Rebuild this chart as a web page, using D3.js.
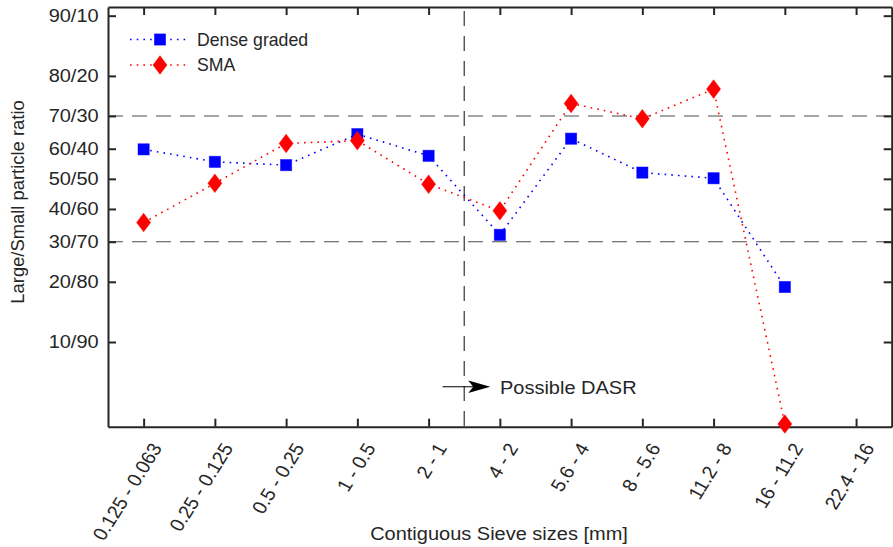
<!DOCTYPE html>
<html>
<head>
<meta charset="utf-8">
<script src="https://cdn.jsdelivr.net/npm/d3@7"></script>
<style>
  html, body { margin: 0; padding: 0; background: #fff; }
  svg { display: block; font-family: "Liberation Sans", Arial, Helvetica, sans-serif; }
</style>
</head>
<body>
<svg id="chart" width="893" height="547"></svg>
<script>
// Sieve-size classes (contiguous sieve pairs, mm)
const categories = ["0.125 - 0.063", "0.25 - 0.125", "0.5 - 0.25", "1 - 0.5", "2 - 1",
                    "4 - 2", "5.6 - 4", "8 - 5.6", "11.2 - 8", "16 - 11.2", "22.4 - 16"];

// Share of large particles (%) in each pair; the ratio plotted is large/small
const denseGraded = [59.8, 55.7, 54.6, 64.6, 57.7, 32.0, 63.2, 52.1, 50.2, 18.9, null];
const sma         = [35.7, 48.5, 61.7, 62.6, 48.2, 39.4, 73.4, 69.2, 77.0, 3.55, null];

// Y tick labels (large/small split in %)
const yTickLarge = [90, 80, 70, 60, 50, 40, 30, 20, 10];
const yTickLabels = ["90/10", "80/20", "70/30", "60/40", "50/50", "40/60", "30/70", "20/80", "10/90"];
const refLines = [70, 30];

const ratio = p => p / (100 - p);

const svg = d3.select("#chart");
const plotL = 108, plotR = 891.7, plotT = 7, plotB = 426.7;
const SX = 1.087;        // horizontal stretch of the lettering
const FS = 18.4;         // font size
const axisColor = "#262626";

const x = d3.scalePoint(categories, [plotL, plotR]).padding(0.5);
const y = d3.scaleLog([0.03552, 10.116], [plotB, plotT]);

// reference dashed lines
svg.append("g").selectAll("line").data(refLines).join("line")
  .attr("x1", plotL).attr("x2", plotR)
  .attr("y1", d => y(ratio(d))).attr("y2", d => y(ratio(d)))
  .attr("stroke", "#4d4d4d").attr("stroke-width", 1.1)
  .attr("stroke-dasharray", "15 9");

// vertical divider between 2 - 1 and 4 - 2
const xDiv = (x("2 - 1") + x("4 - 2")) / 2;
svg.append("line")
  .attr("x1", xDiv).attr("x2", xDiv).attr("y1", plotT).attr("y2", plotB)
  .attr("stroke", "#333").attr("stroke-width", 1.2)
  .attr("stroke-dasharray", "15 10").attr("stroke-dashoffset", -4);

// axes (box with inward ticks)
const ratioTicks = yTickLarge.map(ratio);
const gL = svg.append("g").attr("transform", `translate(${plotL},0)`)
  .call(d3.axisLeft(y).tickValues(ratioTicks).tickFormat((d, i) => yTickLabels[i])
        .tickSize(-8).tickSizeOuter(0).tickPadding(8.6));
const gR = svg.append("g").attr("transform", `translate(${plotR},0)`)
  .call(d3.axisRight(y).tickValues(ratioTicks).tickFormat("").tickSize(-8).tickSizeOuter(0));
const gB = svg.append("g").attr("transform", `translate(0,${plotB})`)
  .call(d3.axisBottom(x).tickSize(-8).tickSizeOuter(0));
const gT = svg.append("g").attr("transform", `translate(0,${plotT})`)
  .call(d3.axisTop(x).tickFormat("").tickSize(-8).tickSizeOuter(0));

[gL, gR, gB, gT].forEach(g => {
  g.select(".domain").attr("stroke", axisColor).attr("stroke-width", 2);
  g.selectAll(".tick line").attr("stroke", axisColor).attr("stroke-width", 2);
  g.attr("font-family", null).attr("font-size", null);
});

gL.selectAll(".tick text")
  .attr("fill", "#262626").attr("font-size", FS)
  .attr("transform", `scale(${SX},1)`);

gB.selectAll(".tick text")
  .attr("fill", "#262626").attr("font-size", FS)
  .attr("text-anchor", "end")
  .attr("x", 0).attr("y", 0).attr("dy", "0.78em")
  .attr("transform", `translate(5,14) scale(${SX},1) rotate(-60)`);

// axis titles
svg.append("g").attr("transform", `translate(499,540) scale(${SX},1)`)
  .append("text").attr("text-anchor", "middle").attr("font-size", FS).attr("fill", "#262626")
  .text("Contiguous Sieve sizes [mm]");
svg.append("text")
  .attr("transform", "translate(23.5,202) rotate(-90)")
  .attr("text-anchor", "middle").attr("font-size", FS).attr("fill", "#262626")
  .text("Large/Small particle ratio");

// series
const series = [
  { name: "Dense graded", values: denseGraded, color: "#0000ff", shape: "square" },
  { name: "SMA", values: sma, color: "#ff0000", shape: "diamond" }
];

const line = d3.line()
  .defined(d => d.v != null)
  .x(d => x(d.c)).y(d => y(ratio(d.v)));

function marker(sel, shape, color) {
  if (shape === "square") {
    sel.append("rect").attr("x", -5.6).attr("y", -5.6).attr("width", 11.2).attr("height", 11.2)
      .attr("fill", color).attr("stroke", color).attr("stroke-opacity", 0.6).attr("stroke-width", 0.8);
  } else {
    sel.append("path").attr("d", "M0,-9.3L7,0L0,9.3L-7,0Z")
      .attr("fill", color).attr("stroke", color).attr("stroke-width", 0.5);
  }
}

series.forEach(s => {
  const pts = categories.map((c, i) => ({ c, v: s.values[i] }));
  svg.append("path").datum(pts)
    .attr("d", line).attr("fill", "none")
    .attr("stroke", s.color).attr("stroke-width", 1.6)
    .attr("stroke-dasharray", "1.6 5.1");
  pts.filter(d => d.v != null).forEach(d => {
    const g = svg.append("g").attr("transform", `translate(${x(d.c)},${y(ratio(d.v))})`);
    marker(g, s.shape, s.color);
  });
});

// legend
const legend = svg.append("g");
series.forEach((s, i) => {
  const ly = 39.5 + i * 25.5;
  legend.append("line").attr("x1", 130).attr("x2", 188).attr("y1", ly).attr("y2", ly)
    .attr("stroke", s.color).attr("stroke-width", 1.6).attr("stroke-dasharray", "1.6 5.1");
  marker(legend.append("g").attr("transform", `translate(160,${ly})`), s.shape, s.color);
  legend.append("text").attr("x", 197).attr("y", ly)
    .attr("dy", "0.36em").attr("font-size", 17.7).attr("fill", "#262626")
    .text(s.name);
});

// annotation arrow
const ay = 386.7, ax0 = xDiv - 21.7, ax1 = x("4 - 2") - 9.6;
svg.append("line").attr("x1", ax0).attr("x2", ax1 - 12).attr("y1", ay).attr("y2", ay)
  .attr("stroke", "#000").attr("stroke-width", 1.1);
svg.append("path")
  .attr("d", `M${ax1},${ay}L${ax1 - 22},${ay - 6.3}L${ax1 - 17},${ay}L${ax1 - 22},${ay + 6.3}Z`)
  .attr("fill", "#000");
svg.append("g").attr("transform", `translate(500,394.3) scale(${SX},1)`)
  .append("text").attr("font-size", FS).attr("fill", "#262626").text("Possible DASR");
</script>
</body>
</html>
